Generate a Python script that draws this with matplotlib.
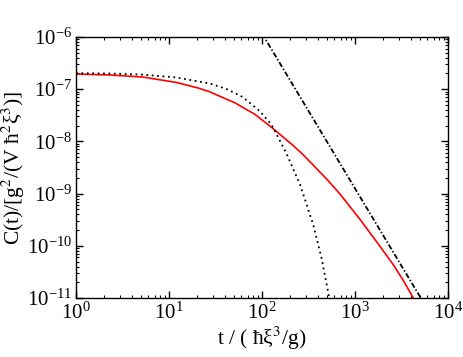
import matplotlib as mpl

mpl.use("Agg")

import matplotlib.pyplot as plt
from matplotlib.ticker import LogLocator, NullFormatter

mpl.rcParams.update(
    {
        "font.family": ["Liberation Serif", "DejaVu Serif"],
        "mathtext.fontset": "stix",
        "font.size": 15,
        "axes.linewidth": 1.0,
    }
)

# red curve (solid)
t_red = [1.0, 2.3, 5.2, 11.9, 20.7, 27.1, 51.3, 84, 132, 217, 278, 496, 690,
         1132, 1711, 2582, 3304, 4074, 4500]
c_red = [1.95e-7, 1.87e-7, 1.71e-7, 1.35e-7, 1.05e-7, 8.97e-8, 5.46e-8, 3.29e-8,
         1.75e-8, 8.3e-9, 5.52e-9, 1.9e-9, 9.8e-10, 3.2e-10, 1.19e-10, 4.34e-11,
         2.17e-11, 1.13e-11, 8.3e-12]

# dotted curve
t_dot = [1.0, 2.3, 5.2, 11.9, 27.1, 41, 62, 93.5, 120, 132, 184, 257, 356, 439,
         516, 545]
c_dot = [2.02e-7, 2.0e-7, 1.90e-7, 1.68e-7, 1.29e-7, 1.02e-7, 7.08e-8, 3.89e-8,
         2.34e-8, 1.84e-8, 5.75e-9, 1.48e-9, 2.51e-10, 5.62e-11, 1.26e-11, 7.1e-12]

# dash-dot power law (~ t^-3)
t_pow = [100, 1e4]
c_pow = [1.17e-6, 1.35e-12]

x_ticks = [1, 10, 100, 1e3, 1e4]
y_ticks = [1e-11, 1e-10, 1e-9, 1e-8, 1e-7, 1e-6]

fig = plt.figure(figsize=(4.63, 3.57), dpi=100)
ax = fig.add_axes([0.1641, 0.1653, 0.8035, 0.7311])

ax.plot(t_red, c_red, color="red", lw=1.2)
ax.plot(t_dot, c_dot, color="black", lw=1.3, ls=(0, (1, 2)))
ax.plot(t_pow, c_pow, color="black", lw=1.3, ls=(0, (3.0, 1.2, 0.8, 1.2)))

ax.set_xscale("log")
ax.set_yscale("log")
ax.set_xticks(x_ticks)
ax.set_yticks(y_ticks)
ax.set_xlim(1, 1e4)
ax.set_ylim(1e-11, 1e-6)

ax.xaxis.set_minor_locator(LogLocator(base=10, subs=range(2, 10), numticks=20))
ax.yaxis.set_minor_locator(LogLocator(base=10, subs=range(2, 10), numticks=20))
ax.xaxis.set_minor_formatter(NullFormatter())
ax.yaxis.set_minor_formatter(NullFormatter())

ax.tick_params(which="both", direction="in", top=True, right=True, labelsize=15)
ax.tick_params(which="major", length=5, width=1.0, pad=3)
ax.tick_params(which="minor", length=2.5, width=0.8)

ax.set_xlabel("t / ( ħξ$^3$/g)", fontsize=15.5, labelpad=1)
ax.set_ylabel("C(t)/[g$^2$/(V ħ$^2$ξ$^3$)]", fontsize=15.5, labelpad=0)

fig.savefig("out.png", dpi=100)
